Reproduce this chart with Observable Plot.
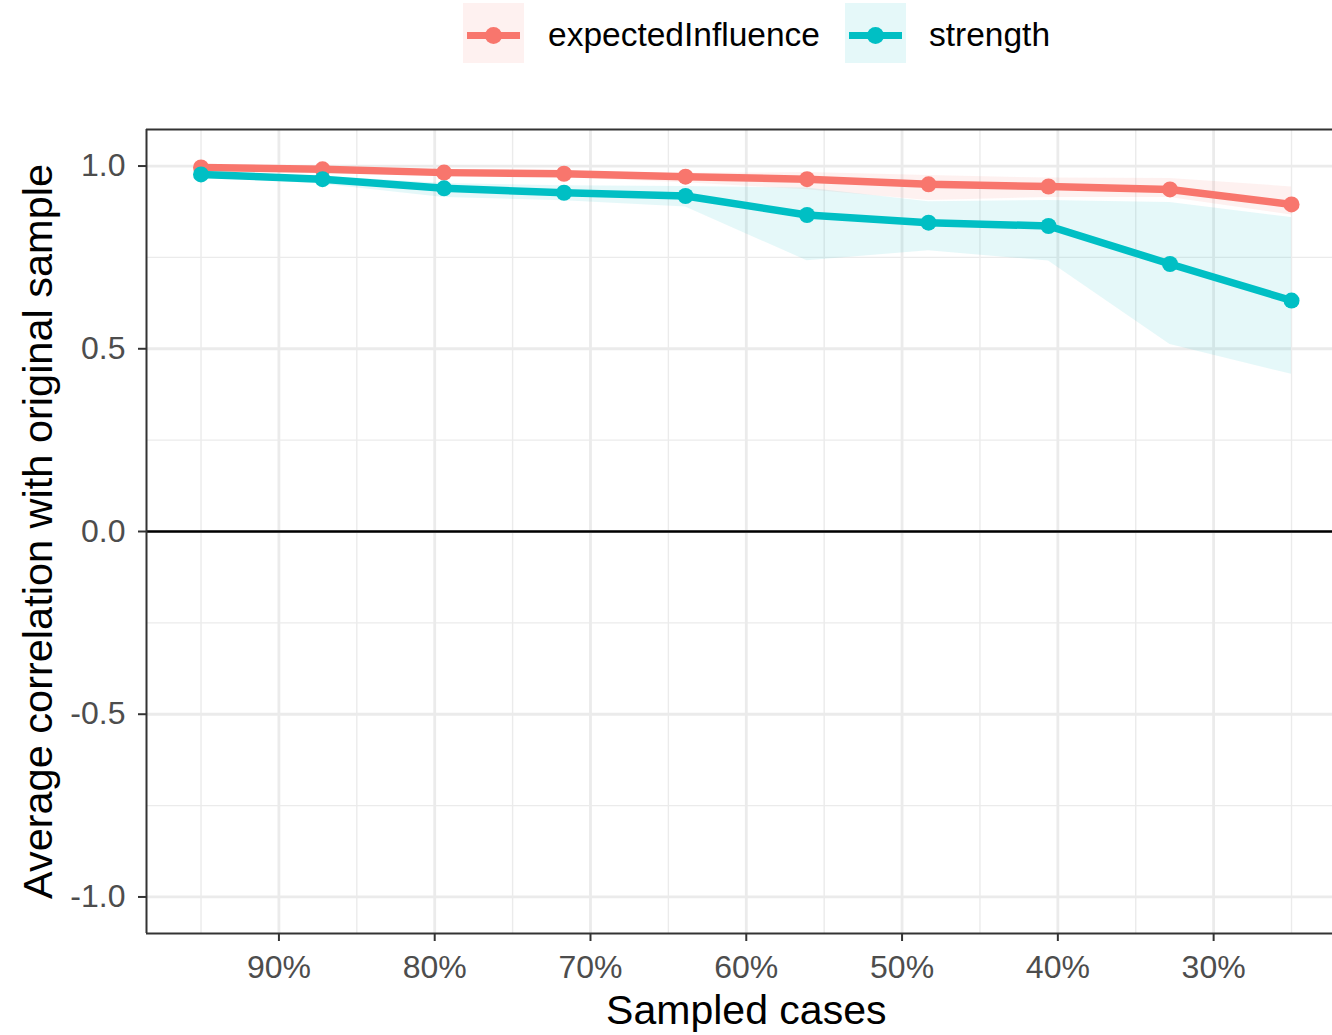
<!DOCTYPE html>
<html>
<head>
<meta charset="utf-8">
<script src="https://cdn.jsdelivr.net/npm/d3@7"></script>
<script src="https://cdn.jsdelivr.net/npm/@observablehq/plot@0.6"></script>
<style>
  html, body { margin: 0; padding: 0; background: white; }
  #wrap { position: relative; width: 1332px; height: 1035px; overflow: hidden; font-family: "Liberation Sans", Arial, sans-serif; }
  #legend { position: relative; width: 1332px; height: 100px; }
  .key { position: absolute; top: 3px; width: 61px; height: 60px; }
  .kline { position: absolute; left: 4px; right: 4px; top: 28.5px; height: 7px; }
  .kdot { position: absolute; left: 22px; top: 23.5px; width: 17px; height: 17px; border-radius: 50%; }
  .ktext { position: absolute; top: 15px; font-size: 33.5px; line-height: 40px; color: #000; white-space: nowrap; }
</style>
</head>
<body>
<div id="wrap">
  <div id="legend"></div>
  <div id="chart"></div>
</div>
<script>
// ---- data ----
const seriesNames = ["expectedInfluence", "strength"];
const seriesColors = ["#F8766D", "#00BFC4"];
const sampled = [0.95, 0.872, 0.794, 0.717, 0.639, 0.561, 0.483, 0.406, 0.328, 0.250];
const eiMean  = [0.996, 0.991, 0.982, 0.979, 0.971, 0.964, 0.950, 0.944, 0.936, 0.895];
const eiLow   = [0.993, 0.986, 0.976, 0.968, 0.954, 0.935, 0.906, 0.914, 0.914, 0.866];
const eiHigh  = [0.998, 0.995, 0.988, 0.986, 0.980, 0.982, 0.974, 0.967, 0.966, 0.943];
const stMean  = [0.977, 0.964, 0.939, 0.927, 0.918, 0.866, 0.845, 0.836, 0.732, 0.632];
const stLow   = [0.972, 0.950, 0.914, 0.905, 0.888, 0.741, 0.768, 0.740, 0.512, 0.430];
const stHigh  = [0.983, 0.972, 0.952, 0.946, 0.944, 0.940, 0.902, 0.906, 0.900, 0.859];
const xMajor = [0.9, 0.8, 0.7, 0.6, 0.5, 0.4, 0.3];
const xMinor = [0.95, 0.85, 0.75, 0.65, 0.55, 0.45, 0.35, 0.25];
const yMajor = [-1, -0.5, 0, 0.5, 1];
const yMinor = [-0.75, -0.25, 0.25, 0.75];
const xTitle = "Sampled cases";
const yTitle = "Average correlation with original sample";

const rows = [];
sampled.forEach((s, i) => rows.push({s, series: seriesNames[0], mean: eiMean[i], lo: eiLow[i], hi: eiHigh[i]}));
sampled.forEach((s, i) => rows.push({s, series: seriesNames[1], mean: stMean[i], lo: stLow[i], hi: stHigh[i]}));

// ---- legend ----
const legend = document.getElementById("legend");
const keyLeft = [463, 845];
const textLeft = [548, 929];
seriesNames.forEach((name, i) => {
  const c = d3.color(seriesColors[i]);
  const bg = `rgba(${c.r},${c.g},${c.b},0.1)`;
  const key = document.createElement("div");
  key.className = "key";
  key.style.left = keyLeft[i] + "px";
  key.style.background = bg;
  const ln = document.createElement("div");
  ln.className = "kline"; ln.style.background = seriesColors[i];
  const dt = document.createElement("div");
  dt.className = "kdot"; dt.style.background = seriesColors[i];
  key.appendChild(ln); key.appendChild(dt);
  legend.appendChild(key);
  const t = document.createElement("div");
  t.className = "ktext";
  t.style.left = textLeft[i] + "px";
  t.textContent = name;
  legend.appendChild(t);
});

// ---- chart ----
const fontFamily = '"Liberation Sans", Arial, sans-serif';
const chart = Plot.plot({
  width: 1332,
  height: 935,
  marginLeft: 146,
  marginRight: 0,
  marginTop: 29,
  marginBottom: 102,
  style: {fontFamily, background: "white", overflow: "visible"},
  x: {domain: [0.985, 0.2237], axis: null},
  y: {domain: [-1.1, 1.1], axis: null},
  color: {domain: seriesNames, range: seriesColors},
  marks: [
    Plot.ruleX(xMinor, {stroke: "#EBEBEB", strokeWidth: 1.4}),
    Plot.ruleY(yMinor, {stroke: "#EBEBEB", strokeWidth: 1.4}),
    Plot.ruleX(xMajor, {stroke: "#EBEBEB", strokeWidth: 2.8}),
    Plot.ruleY(yMajor, {stroke: "#EBEBEB", strokeWidth: 2.8}),
    Plot.ruleY([0], {stroke: "#000", strokeWidth: 2.6}),
    Plot.areaY(rows, {x: "s", y1: "lo", y2: "hi", z: "series", fill: "series", fillOpacity: 0.1}),
    Plot.line(rows, {x: "s", y: "mean", z: "series", stroke: "series", strokeWidth: 7.5, strokeLinejoin: "round"}),
    Plot.dot(rows, {x: "s", y: "mean", fill: "series", r: 8}),
    Plot.ruleY([1.1, -1.1], {stroke: "#333333", strokeWidth: 2}),
    Plot.ruleX([0.985], {stroke: "#333333", strokeWidth: 2}),
    Plot.axisX({ticks: xMajor, tickFormat: d3.format(".0%"), tickSize: 8, tickPadding: 14, fontSize: 32, stroke: "#333333", strokeWidth: 2, fill: "#4D4D4D", label: null}),
    Plot.axisY({ticks: yMajor, tickFormat: d => d.toFixed(1), tickSize: 8, tickPadding: 13, fontSize: 32, stroke: "#333333", strokeWidth: 2, fill: "#4D4D4D", label: null}),
    Plot.text([xTitle], {x: 0.6, frameAnchor: "bottom", dy: 77, lineAnchor: "middle", fontSize: 41, fill: "#000"}),
    Plot.text([yTitle], {frameAnchor: "left", dx: -108, rotate: -90, lineAnchor: "middle", textAnchor: "middle", fontSize: 41.5, fill: "#000"})
  ]
});
document.getElementById("chart").appendChild(chart);
</script>
</body>
</html>
